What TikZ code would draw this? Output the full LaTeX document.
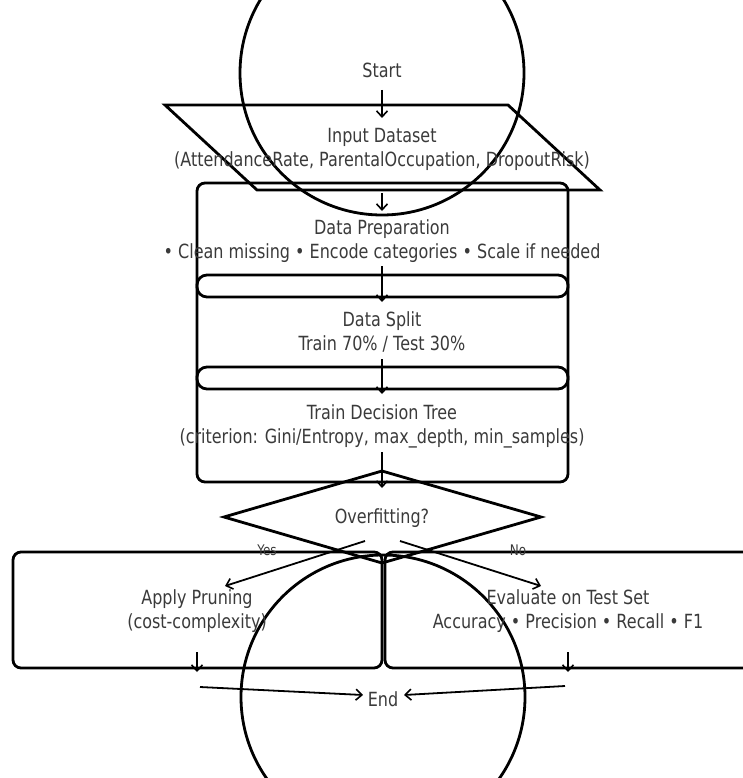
\documentclass[tikz,border=0pt]{standalone}
\usepackage{fontspec}
\setmainfont{DejaVu Sans}
\usetikzlibrary{arrows.meta}
\definecolor{txtgray}{HTML}{3A3A3A}
\newcommand{\stx}[1]{\scalebox{1}[1.22]{\begin{tabular}{@{}c@{}}#1\end{tabular}}}
\begin{document}
\begin{tikzpicture}[x=1pt,y=-1pt,
  shp/.style={draw=black, line width=2.8pt},
  txt/.style={text=txtgray, font=\fontsize{16}{19.6}\selectfont, align=center, inner sep=0pt},
  lbl/.style={text=txtgray, font=\fontsize{12}{14}\selectfont, inner sep=0pt},
  arr/.style={-{Straight Barb[length=6pt,width=11pt,line width=1.6pt]}, line width=1.8pt}]
\useasboundingbox (0,0) rectangle (743,778);
\clip (0,0) rectangle (743,778);
% shapes
\node[shp, circle, minimum size=284pt, inner sep=0pt] (start) at (382,73) {};
\draw[shp] (165,105) -- (508,105) -- (600,190) -- (257,190) -- cycle;
\draw[shp, rounded corners=8pt] (197,183) rectangle (568,482);
\draw[shp, rounded corners=10pt] (197,275) rectangle (568,297);
\draw[shp, rounded corners=10pt] (197,367) rectangle (568,389);
\draw[shp] (382,471) -- (541,517) -- (382,563) -- (224,517) -- cycle;
\draw[shp, rounded corners=8pt] (13,552) rectangle (382,668);
\draw[shp, rounded corners=8pt] (385,552) rectangle (765,668);
\node[shp, circle, minimum size=284pt, inner sep=0pt] (endc) at (383,697) {};
% texts
\node[txt] (starttxt) at (382,73) {\stx{Start}};
\node[txt] (input) at (382,150) {\stx{Input Dataset\\(AttendanceRate, ParentalOccupation, DropoutRisk)}};
\node[txt] (prep) at (382,242) {\stx{Data Preparation\\• Clean missing • Encode categories • Scale if needed}};
\node[txt] (split) at (382,334) {\stx{Data Split\\Train 70\% / Test 30\%}};
\node[txt] (train) at (382,427) {\stx{Train Decision Tree\\(criterion: Gini/Entropy, max\_depth, min\_samples)}};
\node[txt] (over) at (382,519) {\stx{Overfitting?}};
\node[txt] (prune) at (197,612) {\stx{Apply Pruning\\(cost-complexity)}};
\node[txt] (eval) at (568,612) {\stx{Evaluate on Test Set\\Accuracy • Precision • Recall • F1}};
\node[txt] (endtxt) at (383,702) {\stx{End}};
\node[lbl] (yes) at (267,550) {\scalebox{1}[1.22]{Yes}};
\node[lbl] (no) at (518,550) {\scalebox{1}[1.22]{No}};
% connector points
\coordinate (a1s) at (382,90);  \coordinate (a1e) at (382,118);
\coordinate (a2s) at (382,193); \coordinate (a2e) at (382,211);
\coordinate (a3s) at (382,266); \coordinate (a3e) at (382,302);
\coordinate (a4s) at (382,359); \coordinate (a4e) at (382,394);
\coordinate (a5s) at (382,452); \coordinate (a5e) at (382,488);
\coordinate (ys) at (365,541);  \coordinate (ye) at (225,586);
\coordinate (ns) at (400,541);  \coordinate (ne) at (541,586);
\coordinate (pls) at (197,652); \coordinate (ple) at (197,672);
\coordinate (prs) at (568,652); \coordinate (pre) at (568,672);
\coordinate (els) at (200,687); \coordinate (ele) at (363,695);
\coordinate (ers) at (565,686); \coordinate (ere) at (404,695);
\draw[arr] (a1s) -- (a1e);
\draw[arr] (a2s) -- (a2e);
\draw[arr] (a3s) -- (a3e);
\draw[arr] (a4s) -- (a4e);
\draw[arr] (a5s) -- (a5e);
\draw[arr] (ys) -- (ye);
\draw[arr] (ns) -- (ne);
\draw[arr] (pls) -- (ple);
\draw[arr] (prs) -- (pre);
\draw[arr] (els) -- (ele);
\draw[arr] (ers) -- (ere);
\end{tikzpicture}
\end{document}
